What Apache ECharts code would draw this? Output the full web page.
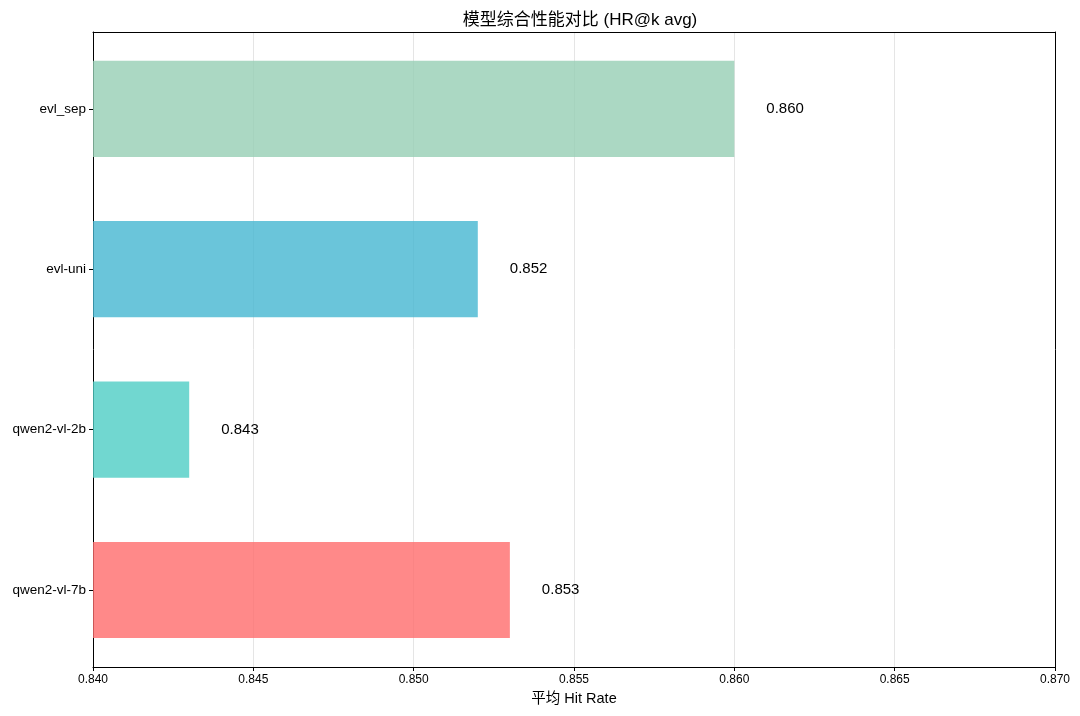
<!DOCTYPE html>
<html><head><meta charset="utf-8">
<script src="https://cdn.jsdelivr.net/npm/echarts@6/dist/echarts.min.js"></script>
<style>html,body{margin:0;padding:0;background:#fff}#c{width:1080px;height:716px}</style>
</head><body><div id="c"></div>
<script>
const categories = ['qwen2-vl-7b', 'qwen2-vl-2b', 'evl-uni', 'evl_sep'];
const values = [0.853, 0.843, 0.852, 0.860];
const colors = ['rgba(255,107,107,0.8)', 'rgba(78,205,196,0.8)', 'rgba(69,183,209,0.8)', 'rgba(150,206,180,0.8)'];
const xTicks = [0.840, 0.845, 0.850, 0.855, 0.860, 0.865, 0.870];

const FONT = '"Liberation Sans", Arial, "Noto Sans CJK SC", sans-serif';
const xMin = xTicks[0], xMax = xTicks[xTicks.length - 1], xStep = xTicks[1] - xTicks[0];
const frameLine = { show: true, onZero: false, lineStyle: { color: '#000', width: 1 } };
const chart = echarts.init(document.getElementById('c'));
chart.setOption({
  animation: false,
  textStyle: { fontFamily: FONT },
  title: {
    text: '模型综合性能对比 (HR@k avg)',
    left: 575, top: 7, textAlign: 'center',
    textStyle: { fontSize: 17, fontWeight: 'normal', color: '#000', fontFamily: FONT }
  },
  grid: [
    { left: 93, right: 25, top: 28.6, bottom: 45.8 },
    { left: 93, right: 25, top: 32, bottom: 49 }
  ],
  xAxis: [
    { type: 'value', gridIndex: 0, min: xMin, max: xMax, show: false, splitLine: { show: false } },
    {
      type: 'value', gridIndex: 1, position: 'bottom', min: xMin, max: xMax, interval: xStep,
      name: '平均 Hit Rate', nameLocation: 'middle', nameGap: 25,
      nameTextStyle: { fontSize: 14.5, color: '#000', fontFamily: FONT },
      axisLine: frameLine,
      axisTick: { show: true, length: 4, lineStyle: { color: '#000' } },
      axisLabel: { fontSize: 12, color: '#000', margin: 7, formatter: v => v.toFixed(3) },
      splitLine: { show: true, lineStyle: { color: '#e5e5e5', width: 1 } }
    },
    {
      type: 'value', gridIndex: 1, position: 'top', min: xMin, max: xMax,
      axisLine: frameLine, axisTick: { show: false }, axisLabel: { show: false }, splitLine: { show: false }
    }
  ],
  yAxis: [
    {
      type: 'category', gridIndex: 0, data: categories,
      axisLine: { show: false },
      axisTick: { show: true, alignWithLabel: true, length: 4, lineStyle: { color: '#000' } },
      axisLabel: { fontSize: 13.5, color: '#000', margin: 7 },
      splitLine: { show: false }
    },
    { type: 'value', gridIndex: 1, position: 'left', min: 0, max: 1, axisLine: frameLine, axisTick: { show: false }, axisLabel: { show: false }, splitLine: { show: false } },
    { type: 'value', gridIndex: 1, position: 'right', min: 0, max: 1, axisLine: frameLine, axisTick: { show: false }, axisLabel: { show: false }, splitLine: { show: false } }
  ],
  series: [{
    type: 'bar',
    xAxisIndex: 0, yAxisIndex: 0,
    barWidth: '60%',
    data: values.map((v, i) => ({ value: v, itemStyle: { color: colors[i] } })),
    label: {
      show: true, position: 'right', distance: 32,
      fontSize: 15, color: '#000', fontFamily: FONT,
      formatter: p => p.value.toFixed(3)
    }
  }]
});
</script></body></html>
